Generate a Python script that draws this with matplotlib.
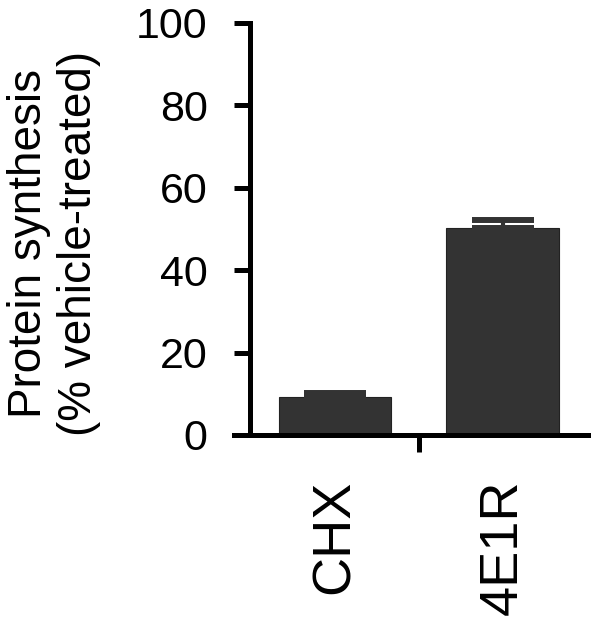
import matplotlib
matplotlib.use('Agg')
import matplotlib.pyplot as plt

plt.rcParams['font.family'] = ['Liberation Sans', 'DejaVu Sans']

# data
groups = ['CHX', '4E1R']
synthesis = [9.2, 50.2]      # % of vehicle-treated
sem = [1.1, 2.1]
yticks = [0, 20, 40, 60, 80, 100]

bar_color = '#333333'

fig = plt.figure(figsize=(5.91, 6.19), dpi=100)
ax = fig.add_axes([234 / 591, (619 - 435) / 619, (590 - 234) / 591, (435 - 23) / 619])

x = list(range(len(groups)))
ax.bar(x, synthesis, width=0.67, color=bar_color, edgecolor='#222222', linewidth=0.8, zorder=2)
ax.errorbar(x, synthesis, yerr=[[0, 0], sem], fmt='none', ecolor=bar_color,
            elinewidth=3, capsize=22, capthick=4.3, zorder=3)

ax.set_xlim(-0.603, 1.522)
ax.set_ylim(0, 100)

for s in ['top', 'right']:
    ax.spines[s].set_visible(False)
ax.spines['left'].set_position(('data', -0.507))
ax.spines['left'].set_linewidth(3.6)
ax.spines['bottom'].set_linewidth(3.6)

ax.set_yticks(yticks)
ax.set_yticklabels([str(v) for v in yticks], fontsize=31)
ax.tick_params(axis='y', length=11.5, width=3.6, pad=19)

ax.set_xticks(x)
ax.set_xticklabels(groups, rotation=90, fontsize=39)
ax.set_xticks([0.5], minor=True)
ax.tick_params(axis='x', which='major', length=0, pad=32)
ax.tick_params(axis='x', which='minor', length=12, width=3.6, direction='out')

fig.text(54 / 591, (619 - 243) / 619, 'Protein synthesis\n(% vehicle-treated)',
         rotation=90, ha='center', va='center', multialignment='center',
         fontsize=33, linespacing=1.15)

fig.savefig('out.png', dpi=100)
